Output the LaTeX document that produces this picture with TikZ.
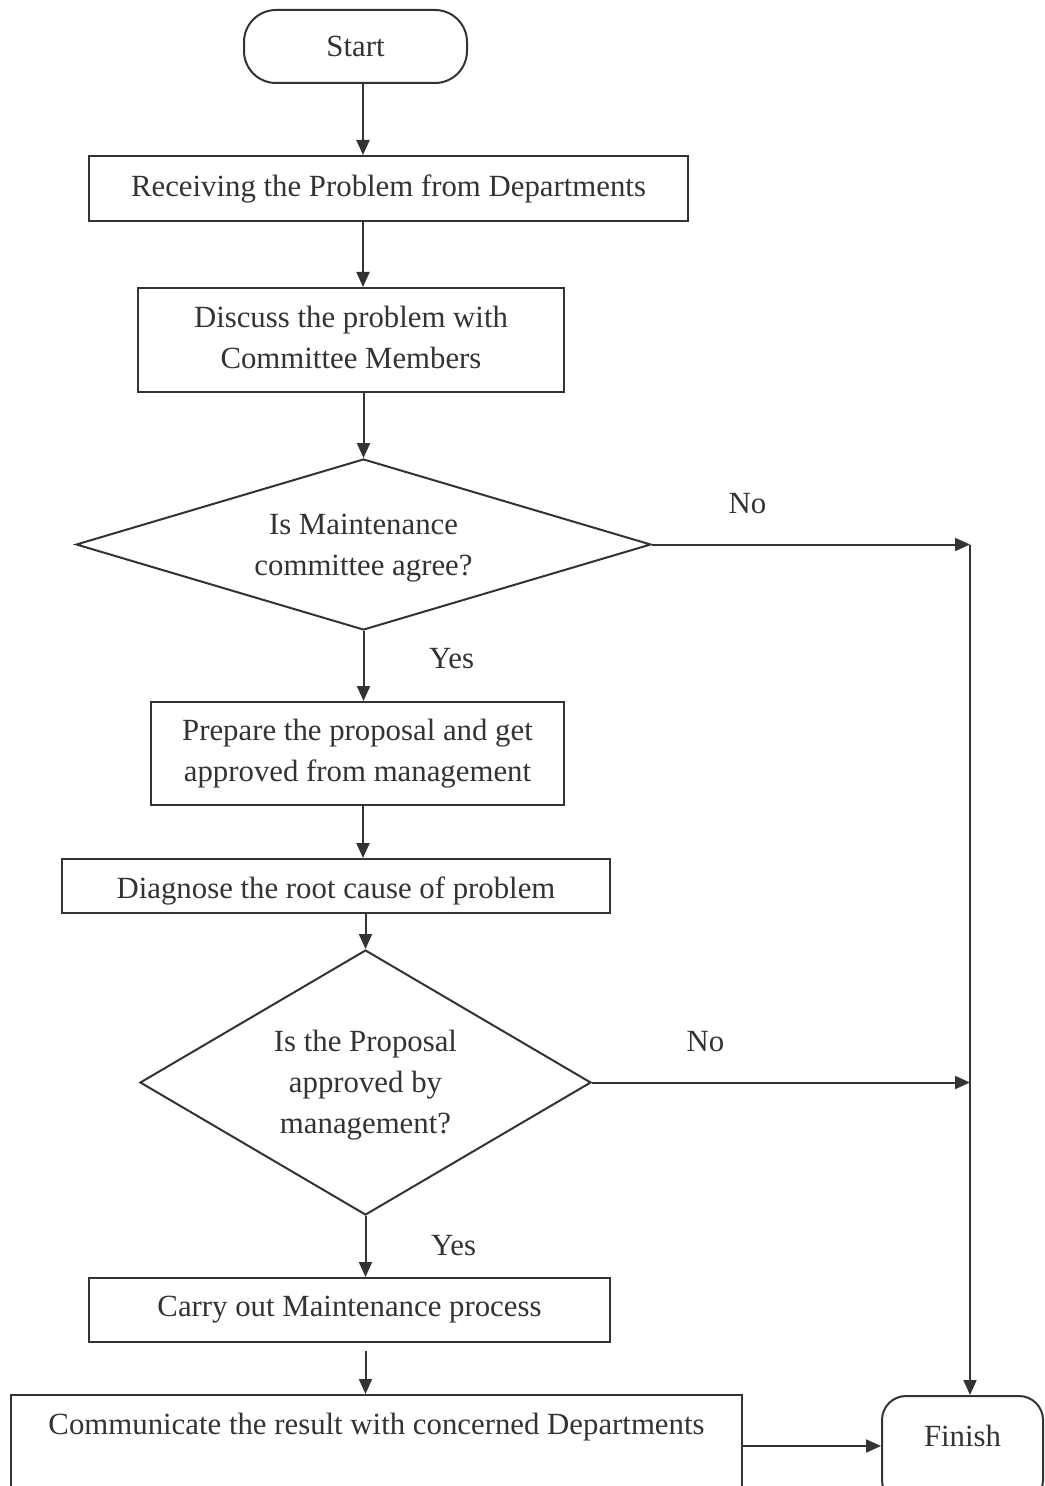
\documentclass[tikz,border=0pt]{standalone}
\usepackage{fontspec}
\setmainfont{Liberation Serif}
\usetikzlibrary{shapes,arrows.meta}

\tikzset{
    box/.style={draw, rectangle, align=center, inner sep=2pt},
    term/.style={draw, rectangle, align=center, inner sep=2pt},
    decision/.style={draw, diamond, align=center, inner sep=0pt},
    nolbl/.style={above=11.5pt, pos=0.3},
    yeslbl/.style={right=29pt},
}

\begin{document}
\begin{tikzpicture}[x=0.5pt,y=-0.5pt,line width=1pt,color=black!80,
    font=\fontsize{15.4}{20.5}\selectfont,
    >={Triangle[length=7.5pt,width=6.5pt]}]
    \useasboundingbox (0,0) rectangle (1044,1486);
    \clip (0,0) rectangle (1044,1486);
    \fill[white] (0,0) rectangle (1044,1486);

    % steps of the flow
    \node[term, rounded corners=16pt, minimum width=111.5pt, minimum height=36.5pt] (start) at (355.5,46.5) {Start};
    \node[box, minimum width=299.5pt, minimum height=32.5pt] (recv) at (388.5,188.5) {Receiving the Problem from Departments};
    \node[box, minimum width=213pt, minimum height=52pt, text depth=3pt] (discuss) at (351,340) {Discuss the problem with\\Committee Members};
    \node[decision, shape aspect=3.4, minimum width=287.5pt, minimum height=85.5pt, text depth=-1.7pt] (agree) at (363.5,544.5) {Is Maintenance\\committee agree?};
    \node[box, minimum width=206.5pt, minimum height=51.5pt] (prepare) at (357.5,753.5) {Prepare the proposal and get\\approved from management};
    \node[box, minimum width=274pt, minimum height=27pt, text height=12.2pt, text depth=0pt] (diagnose) at (336,886) {Diagnose the root cause of problem};
    \node[decision, shape aspect=1.7, minimum width=225.5pt, minimum height=132.5pt, text depth=0.3pt] (approved) at (365.5,1082.5) {Is the Proposal\\approved by\\management?};
    \node[box, minimum width=260.5pt, minimum height=32pt] (carry) at (349.5,1310) {Carry out Maintenance process};
    \node[box, minimum width=365.5pt, minimum height=51pt, text depth=22.5pt] (comm) at (376.5,1446) {Communicate the result with concerned Departments};
    \node[term, rounded corners=12pt, minimum width=80.5pt, minimum height=54pt, text depth=14.5pt] (finish) at (962.5,1450) {Finish};

    \coordinate (spine) at (363,0);
    \coordinate (rail) at (970,0);

    % connectors
    \draw[->] (start.south -| spine) -- (recv.north -| spine);
    \draw[->] (recv.south -| spine) -- (discuss.north -| spine);
    \draw[->] (discuss.south -| agree.north) -- (agree.north);
    \draw[->] (agree.south) -- node[yeslbl, pos=0.4] {Yes} (prepare.north -| agree.south);
    \draw[->] (prepare.south -| spine) -- (diagnose.north -| spine);
    \draw[->] (diagnose.south -| approved.north) -- (approved.north);
    \draw[->] (approved.south) -- node[yeslbl, pos=0.48] {Yes} (carry.north -| approved.south);
    \draw[->] ([yshift=-4pt]carry.south -| approved.south) -- (comm.north -| approved.south);
    \draw[->] (comm.east) -- (comm.east -| finish.west);

    \draw[->] (agree.east) -- node[nolbl] {No} (agree.east -| rail);
    \draw[->] (approved.east) -- node[nolbl] {No} (approved.east -| rail);
    \draw[->] (agree.east -| rail) -- (finish.north -| rail);
\end{tikzpicture}
\end{document}
